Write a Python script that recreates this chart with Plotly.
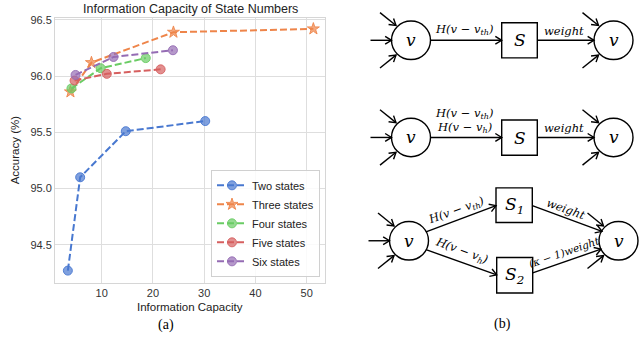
import math
import plotly.graph_objects as go

W, H = 640, 349

# ---------------- data ----------------
series_names = ["Two states", "Three states", "Four states", "Five states", "Six states"]
two_x = [3.4, 5.8, 14.7, 30.2]
two_y = [94.27, 95.10, 95.51, 95.60]
three_x = [3.9, 8.0, 24.0, 51.3]
three_y = [95.86, 96.12, 96.39, 96.42]
four_x = [4.1, 9.8, 18.6]
four_y = [95.89, 96.07, 96.16]
five_x = [4.7, 11.0, 21.5]
five_y = [95.96, 96.02, 96.06]
six_x = [4.9, 12.3, 23.9]
six_y = [96.01, 96.17, 96.23]
x_ticks = [10, 20, 30, 40, 50]
y_ticks = [94.5, 95.0, 95.5, 96.0, 96.5]

colors = ["#4878d0", "#ee854a", "#6acc64", "#d65f5f", "#956cb4"]
symbols = ["circle", "star", "circle", "circle", "circle"]
xs = [two_x, three_x, four_x, five_x, six_x]
ys = [two_y, three_y, four_y, five_y, six_y]


def X(px):
    return px / W


def Y(py):
    return 1 - py / H


def rgba(hexc, a):
    h = hexc.lstrip("#")
    return "rgba(%d,%d,%d,%.2f)" % (int(h[0:2], 16), int(h[2:4], 16), int(h[4:6], 16), a)


fig = go.Figure()
for name, c, s, xv, yv in zip(series_names, colors, symbols, xs, ys):
    fig.add_trace(go.Scatter(
        x=xv, y=yv, name=name, mode="lines+markers",
        line=dict(color=c, width=2, dash="7px,3px"),
        marker=dict(symbol=s, size=9, color=rgba(c, 0.7),
                    line=dict(color=rgba(c, 0.9), width=1)),
    ))

axis_common = dict(showgrid=True, gridcolor="#dedede", gridwidth=1, zeroline=False,
                   showline=True, linecolor="#d6d6d6", linewidth=1, mirror=True,
                   ticks="", tickfont=dict(family="Liberation Sans, Arial", size=11, color="#333333"))

fig.update_layout(
    width=W, height=H, margin=dict(l=0, r=0, t=0, b=0),
    paper_bgcolor="white", plot_bgcolor="white",
    xaxis=dict(domain=[X(55), X(325)], range=[0.89, 53.57], tickvals=x_ticks, **axis_common),
    yaxis=dict(domain=[Y(282), Y(14)], range=[94.162, 96.518], tickvals=y_ticks,
               tickformat=".1f", **axis_common),
    showlegend=True,
    legend=dict(x=X(320), xanchor="right", y=Y(276), yanchor="bottom",
                bgcolor="rgba(255,255,255,0.85)", bordercolor="#d0d0d0", borderwidth=1,
                font=dict(family="Liberation Sans, Arial", size=11, color="#222222"),
                itemwidth=30, tracegroupgap=0),
)

sans = "Liberation Sans, Arial"
serif = "Liberation Serif, Times New Roman"
annotations = []


def text(px, py, t, size=12, family=sans, color="#222222", angle=0, italic=False):
    f = dict(family=family, size=size, color=color)
    if italic:
        f["style"] = "italic"
    annotations.append(dict(x=X(px), y=Y(py), xref="paper", yref="paper", text=t,
                            showarrow=False, xanchor="center", yanchor="middle",
                            font=f, textangle=angle))


text(190, 5, "Information Capacity of State Numbers", size=12.5)
text(190, 307, "Information Capacity", size=11.5)
text(15, 148, "Accuracy (%)", size=11.5, angle=-90)
text(166, 325, "(a)", size=14, family=serif, color="#000000")
text(502, 324, "(b)", size=14, family=serif, color="#000000")

# ---------------- diagram ----------------
shapes = []
LW = 1.4
dser = "DejaVu Serif"
LS = 11.5


def line(x0, y0, x1, y1):
    shapes.append(dict(type="line", xref="paper", yref="paper", x0=X(x0), y0=Y(y0),
                       x1=X(x1), y1=Y(y1), line=dict(color="black", width=LW)))


def arrow(x0, y0, x1, y1, L=7.5, ang=32):
    line(x0, y0, x1, y1)
    dx, dy = x1 - x0, y1 - y0
    n = math.hypot(dx, dy)
    ux, uy = dx / n, dy / n
    pts = []
    for s in (1, -1):
        a = math.radians(ang) * s
        bx = -ux * math.cos(a) + uy * math.sin(a)
        by = -ux * math.sin(a) - uy * math.cos(a)
        pts.append((x1 + L * bx, y1 + L * by))
    path = "M %f %f L %f %f L %f %f" % (X(pts[0][0]), Y(pts[0][1]), X(x1), Y(y1),
                                         X(pts[1][0]), Y(pts[1][1]))
    shapes.append(dict(type="path", xref="paper", yref="paper", path=path,
                       line=dict(color="black", width=LW)))


def circle(cx, cy, r=19.5):
    shapes.append(dict(type="circle", xref="paper", yref="paper", x0=X(cx - r), x1=X(cx + r),
                       y0=Y(cy + r), y1=Y(cy - r), line=dict(color="black", width=LW)))
    text(cx, cy, "v", size=17, family=dser, color="black", italic=True)


def box(x0, y0, x1, y1, label):
    shapes.append(dict(type="rect", xref="paper", yref="paper", x0=X(x0), x1=X(x1),
                       y0=Y(y1), y1=Y(y0), line=dict(color="black", width=LW)))
    text((x0 + x1) / 2, (y0 + y1) / 2, label, size=17, family=dser, color="black", italic=True)


def inputs(cx, cy, r=19.5, horiz=True):
    if horiz:
        arrow(cx - r - 21, cy, cx - r, cy)
    arrow(cx - 31, cy - 28, cx - 15, cy - 15)
    arrow(cx - 31, cy + 28, cx - 15, cy + 15)


lab_th = "H(v − v<sub>th</sub>)"
lab_h = "H(v − v<sub>h</sub>)"

# row 1
r1 = 36.7
inputs(411, r1)
circle(411, r1)
box(501.7, 19, 537.3, 54.5, "S")
arrow(430.5, r1, 501.7, r1)
inputs(613.5, r1, horiz=False)
arrow(537.3, r1, 594, r1)
circle(613.5, r1)
text(464, 25.5, lab_th, size=LS, family=dser, color="black", italic=True)
text(564, 27.5, "weight", size=LS, family=dser, color="black", italic=True)

# row 2
r2 = 135
inputs(411, r2)
circle(411, r2)
box(501.7, 117.3, 537.3, 153, "S")
arrow(430.5, r2, 501.7, r2)
inputs(613.5, r2, horiz=False)
arrow(537.3, r2, 594, r2)
circle(613.5, r2)
text(464, 111, lab_th, size=LS, family=dser, color="black", italic=True)
text(464, 125, lab_h, size=LS, family=dser, color="black", italic=True)
text(564, 125.5, "weight", size=LS, family=dser, color="black", italic=True)

# row 3
r3 = 239.5
inputs(409, r3)
circle(409, r3)
box(496, 186, 532.3, 221, "S<sub>1</sub>")
box(496.7, 256.5, 532.7, 292.3, "S<sub>2</sub>")
arrow(426, 230.5, 496, 204)
arrow(426, 248.5, 496.7, 274)
inputs(618.5, r3, horiz=False)
arrow(532.3, 204, 602, 230)
arrow(532.7, 272, 601, 248)
circle(618.5, r3)
text(456, 209, lab_th, size=LS, family=dser, color="black", italic=True, angle=-20)
text(461, 249.5, lab_h, size=LS, family=dser, color="black", italic=True, angle=20)
text(566, 207, "weight", size=LS, family=dser, color="black", italic=True, angle=20)
text(564, 250.5, "(κ − 1)weight", size=10.5, family=dser, color="black", italic=True, angle=-19)

fig.update_layout(shapes=shapes, annotations=annotations)
fig.write_html("out.html", config={"displayModeBar": False},
               post_script="document.body.style.margin='0px';document.body.style.overflow='hidden';")
